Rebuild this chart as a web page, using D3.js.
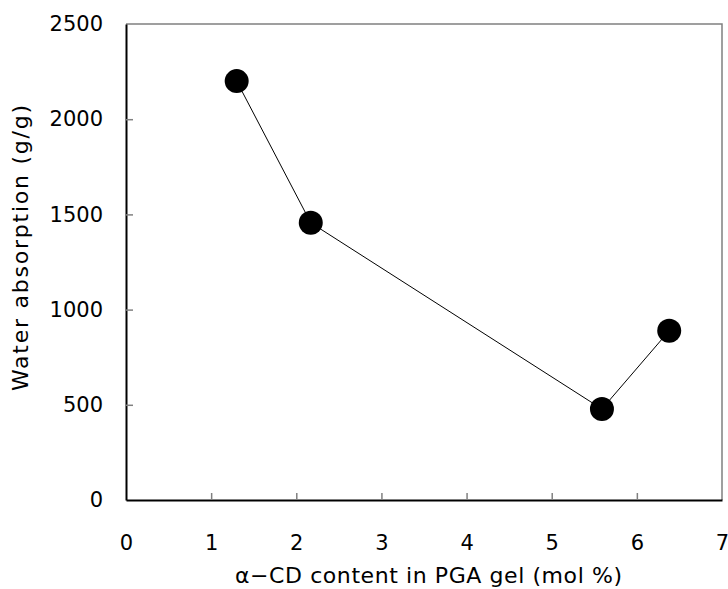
<!DOCTYPE html>
<html>
<head>
<meta charset="utf-8">
<script src="https://cdn.jsdelivr.net/npm/d3@7"></script>
<style>
  body { margin: 0; background: #fff; }
  text { font-family: "DejaVu Sans", sans-serif; fill: #000; }
</style>
</head>
<body>
<div id="chart"></div>
<script>
"use strict";

// data
var cdContent = [1.30, 2.17, 5.59, 6.38];
var absorption = [2200, 1456, 478, 889];
var xTicks = [0, 1, 2, 3, 4, 5, 6, 7];
var yTicks = [0, 500, 1000, 1500, 2000, 2500];

function renderChart() {
    var svg = d3.select("#chart").append("svg")
        .attr("width", 728)
        .attr("height", 589),
        margin = { top: 24, right: 6, bottom: 89, left: 126 },
        width = +svg.attr("width") - margin.left - margin.right,
        height = +svg.attr("height") - margin.top - margin.bottom;

    var x = d3.scaleLinear().domain([0, 7]).range([0, width]),
        y = d3.scaleLinear().domain([0, 2500]).range([height, 0]);

    var g = svg.append("g")
        .attr("transform", "translate(" + margin.left + "," + margin.top + ")");

    // frame: gray top and right
    g.append("path")
        .attr("d", "M0,0H" + width + "V" + height)
        .attr("fill", "none")
        .attr("stroke", "#808080")
        .attr("stroke-width", 1.5);

    var xAxis = g.append("g")
        .attr("transform", "translate(0," + height + ")")
        .call(d3.axisBottom(x).tickValues(xTicks).tickFormat(d3.format("d")).tickSize(0).tickPadding(35));
    xAxis.select(".domain").attr("stroke", "#000").attr("stroke-width", 2);
    xAxis.selectAll(".tick text").attr("font-size", 21);
    // small inward ticks
    xAxis.selectAll(".tick").filter(function (d) { return d > 0 && d < 7; })
        .append("line").attr("y2", -7).attr("stroke", "#808080").attr("stroke-width", 1.5);

    var yAxis = g.append("g")
        .call(d3.axisLeft(y).tickValues(yTicks).tickFormat(d3.format("d")).tickSize(0).tickPadding(23));
    yAxis.select(".domain").attr("stroke", "#000").attr("stroke-width", 2);
    yAxis.selectAll(".tick text").attr("font-size", 21);
    yAxis.selectAll(".tick").filter(function (d) { return d > 0 && d < 2500; })
        .append("line").attr("x2", 7).attr("stroke", "#808080").attr("stroke-width", 1.5);

    var pts = cdContent.map(function (v, i) { return [v, absorption[i]]; });

    g.append("path")
        .datum(pts)
        .attr("fill", "none")
        .attr("stroke", "#000")
        .attr("stroke-width", 1)
        .attr("d", d3.line()
            .x(function (d) { return x(d[0]); })
            .y(function (d) { return y(d[1]); }));

    g.selectAll(".dot")
        .data(pts)
        .enter().append("circle")
        .attr("class", "dot")
        .attr("cx", function (d) { return x(d[0]); })
        .attr("cy", function (d) { return y(d[1]); })
        .attr("r", 12)
        .attr("fill", "#000");

    svg.append("text")
        .attr("x", 235)
        .attr("y", 583)
        .attr("font-size", 22)
        .attr("textLength", 387)
        .attr("lengthAdjust", "spacing")
        .text("\u03b1\u2212CD content in PGA gel (mol %)");

    svg.append("text")
        .attr("transform", "translate(28,391) rotate(-90)")
        .attr("font-size", 22)
        .attr("textLength", 286)
        .attr("lengthAdjust", "spacing")
        .text("Water absorption (g/g)");
}

renderChart();
</script>
</body>
</html>
